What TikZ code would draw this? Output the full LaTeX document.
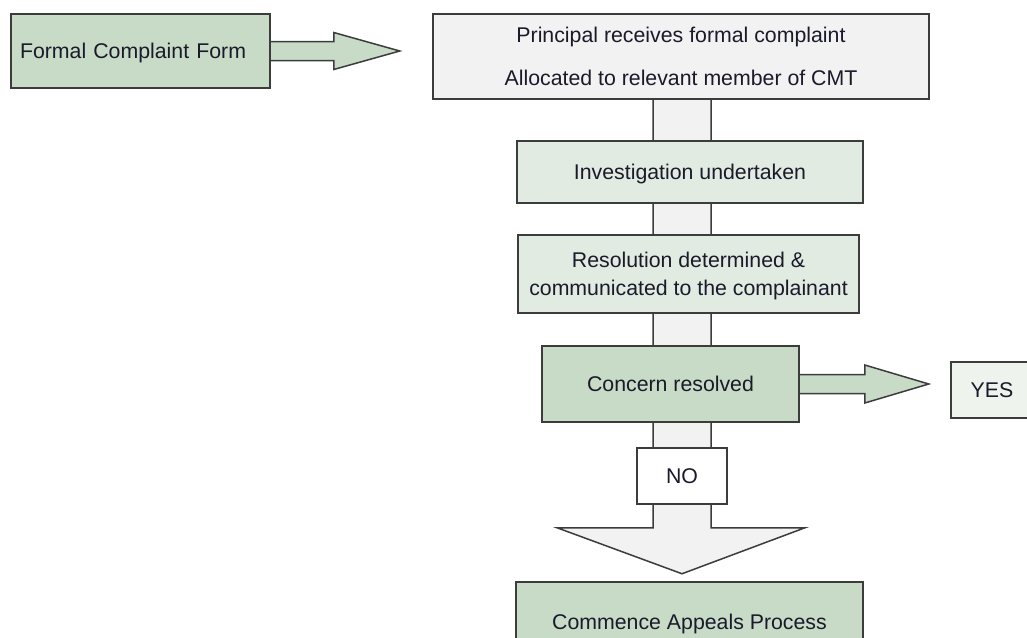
\documentclass[tikz,border=0pt]{standalone}
\usepackage{fontspec}
\setmainfont{Liberation Sans}
\usetikzlibrary{calc,backgrounds}
\definecolor{linec}{HTML}{3C3C3C}
\definecolor{greyfill}{HTML}{F2F2F2}
\definecolor{palegreen}{HTML}{E2EBE2}
\definecolor{midgreen}{HTML}{C7DBC7}
\definecolor{yesfill}{HTML}{EEF3EE}
\definecolor{txt}{HTML}{1A1A2A}
\begin{document}
\begin{tikzpicture}[x=1pt,y=-1pt,
  box/.style={draw=linec, line width=1.5pt, inner sep=0pt, text=txt, text depth=0pt,
    font=\fontsize{21.3}{28}\selectfont, align=center},
  blockarrow/.style={draw=linec, line width=1.5pt, line join=miter}]
\useasboundingbox (0,0) rectangle (1027,637);

\node[box, fill=midgreen, minimum width=259pt, minimum height=74pt,
  text width=241pt, align=left] (form) at (140.5,51) {Formal Complaint Form};
\node[box, fill=greyfill, minimum width=496pt, minimum height=85pt,
  font=\fontsize{21.3}{43}\selectfont] (principal) at (681,56.5)
  {Principal receives formal complaint\\Allocated to relevant member of CMT};
\node[box, fill=palegreen, minimum width=346pt, minimum height=62pt] (invest) at (690,172) {Investigation undertaken};
\node[box, fill=palegreen, minimum width=341pt, minimum height=78pt] (resol) at (688.5,274)
  {Resolution determined \&\\communicated to the complainant};
\node[box, fill=midgreen, minimum width=257pt, minimum height=76pt] (concern) at (670.5,384) {Concern resolved};
\node[box, fill=yesfill, minimum width=82pt, minimum height=56pt] (yes) at (992,390) {YES};
\node[box, fill=white, minimum width=90pt, minimum height=56pt] (no) at (682,476) {NO};
\node[box, fill=midgreen, minimum width=347pt, minimum height=80pt] (commence) at (689.5,622) {Commence Appeals Process};

\begin{pgfonlayer}{background}
  % arrow from form to principal
  \path (form.east) ++(63,0) coordinate (fh) ++(66,0) coordinate (ftip);
  \draw[blockarrow, fill=midgreen]
    ($(form.east)+(-2,-9.5)$) -- ($(fh)+(0,-9.5)$) -- ($(fh)+(0,-18.5)$) -- (ftip)
    -- ($(fh)+(0,18.5)$) -- ($(fh)+(0,9.5)$) -- ($(form.east)+(-2,9.5)$);
  % vertical shaft from principal down to commence
  \coordinate (sh) at ($(principal.south)+(1,-2)$);
  \draw[blockarrow, fill=greyfill]
    ($(sh)+(-29,0)$) -- ($(sh)+(-29,430)$) -- ($(sh)+(-125,430)$) -- ($(sh)+(0,476)$)
    -- ($(sh)+(123,430)$) -- ($(sh)+(29,430)$) -- ($(sh)+(29,0)$);
  % arrow from concern to yes
  \path (concern.east) ++(65,0) coordinate (yh) ++(64,0) coordinate (ytip);
  \draw[blockarrow, fill=midgreen]
    ($(concern.east)+(-2,-9.5)$) -- ($(yh)+(0,-9.5)$) -- ($(yh)+(0,-19)$) -- (ytip)
    -- ($(yh)+(0,19)$) -- ($(yh)+(0,9.5)$) -- ($(concern.east)+(-2,9.5)$);
\end{pgfonlayer}
\end{tikzpicture}
\end{document}
